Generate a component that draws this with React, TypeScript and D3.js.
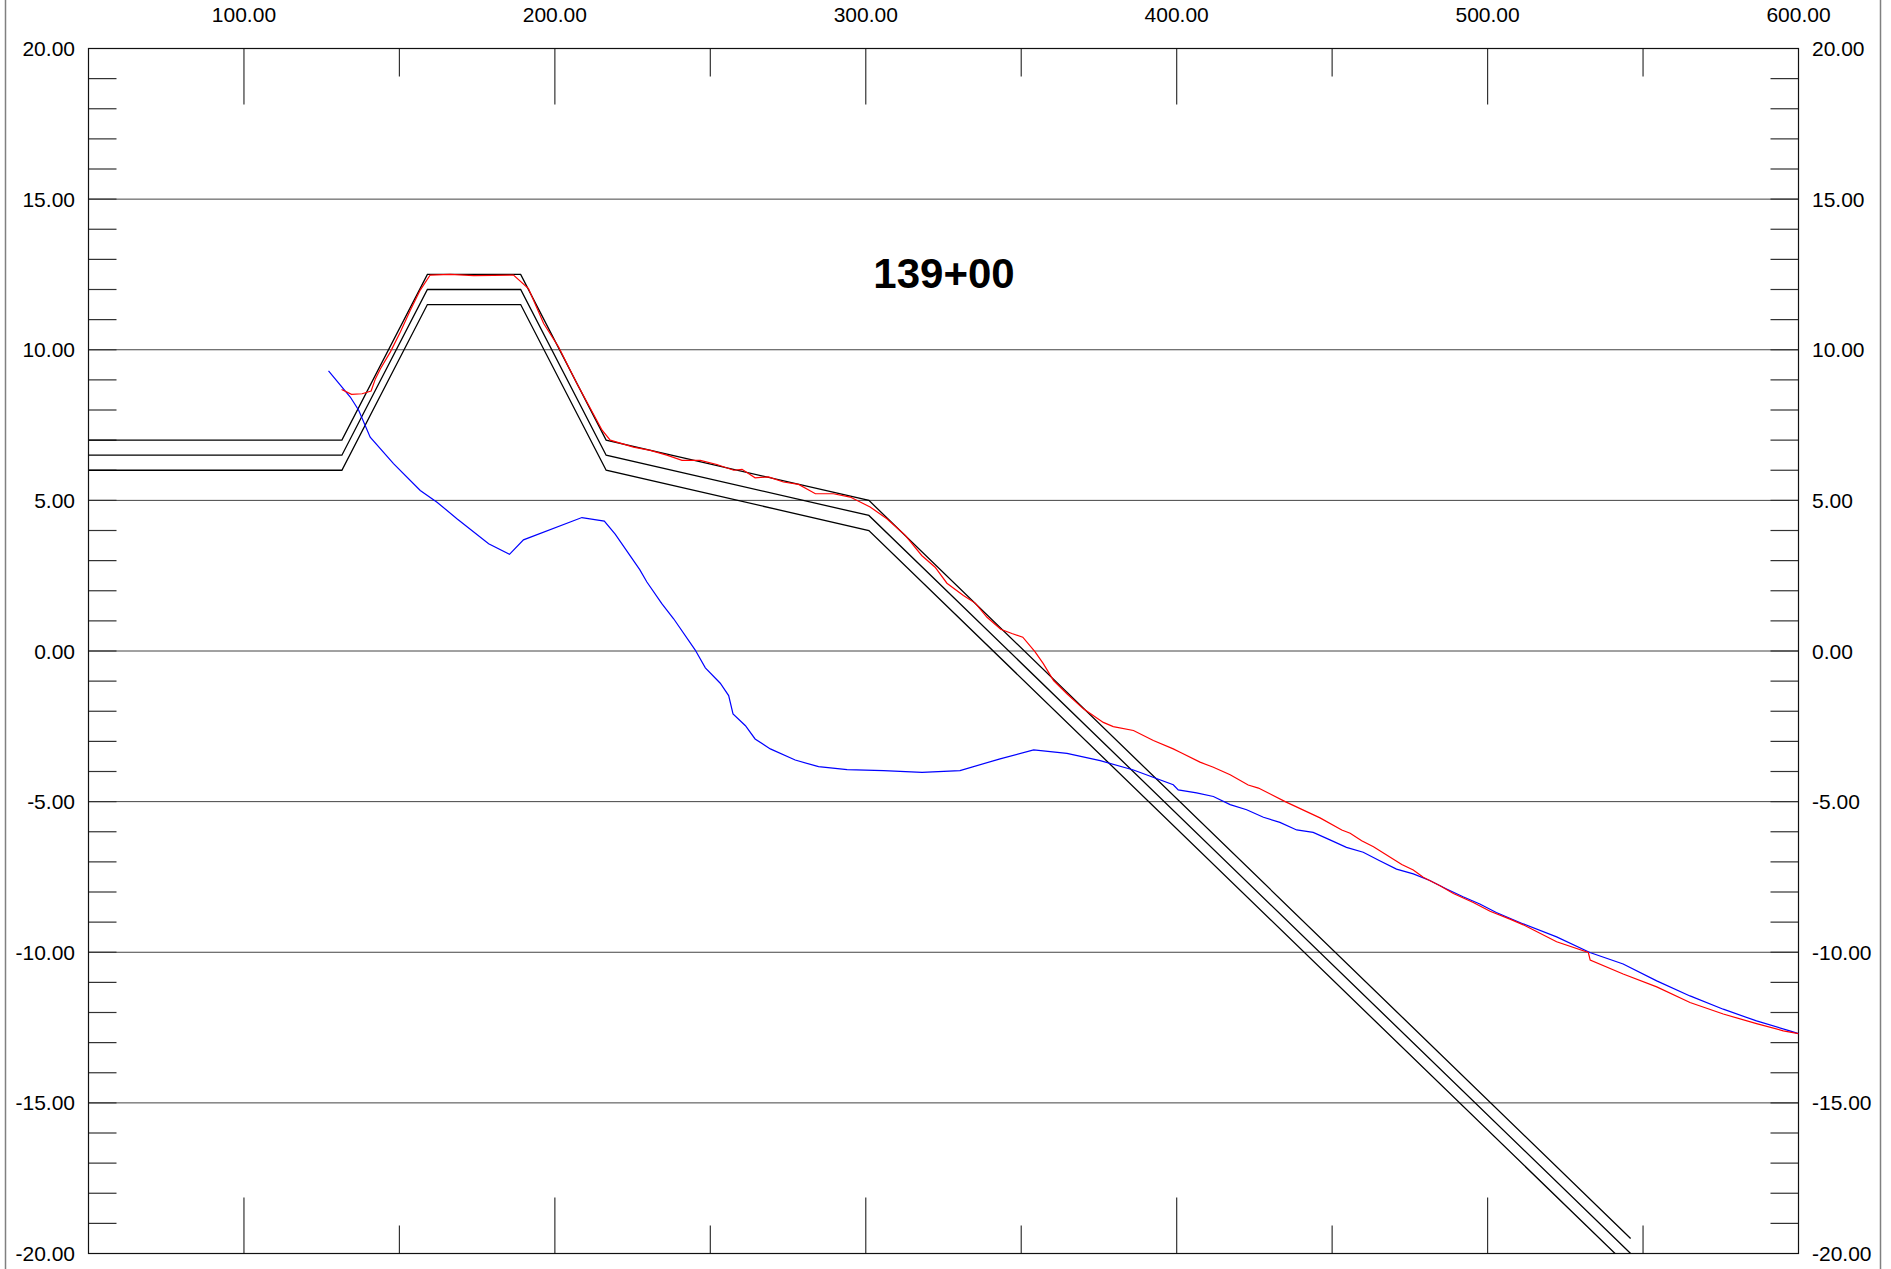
import React from "react";
import * as d3 from "d3";

// ---- data ----
const xTickValues = [100, 200, 300, 400, 500, 600];
const xMinorTickValues = [100, 150, 200, 250, 300, 350, 400, 450, 500, 550];
const yLabelValues = [20, 15, 10, 5, 0, -5, -10, -15, -20];
const yGridValues = [15, 10, 5, 0, -5, -10, -15];
const yMinorTickValues = d3.range(-19, 20);
const title = "139+00";

// design template: shared offsets, three elevations
const designX = [50, 131.5, 159, 189, 216.5, 301, 546];
const designTop = [7, 7, 12.5, 12.5, 7, 5, -19.5];
const designMid = [6.5, 6.5, 12, 12, 6.5, 4.5, -20.0];
const designBot = [6, 6, 11.5, 11.5, 6, 4, -20.5];

const redX = [131.4, 134.6, 138, 140.9, 142.3, 143.9, 147.1, 150.3, 153.5, 156.7, 159.9, 166.3, 173.9, 180.3, 186.7, 191.5, 196.4, 201.2, 207.1, 215.2, 217.8, 225.3, 230.7, 236, 240.9, 246.8, 252.1, 257.5, 260.2, 264.4, 268.7, 273.5, 278.4, 283.8, 289.6, 295, 301.4, 306.8, 312.7, 318.0, 322.3, 326.1, 331.4, 335.2, 339, 343.4, 347, 350.5, 354.4, 357.1, 360.4, 364.7, 370, 376.4, 379.6, 386.1, 392.5, 398.9, 401.1, 407.5, 411.8, 417.2, 423, 426.3, 434.9, 446.1, 453.1, 455.8, 459.5, 463.3, 472.4, 476.1, 479.3, 484.7, 489, 495.4, 500.8, 507.2, 511.5, 522.2, 532.4, 533, 543.6, 554.4, 565.1, 575.8, 586.5, 595.1, 600];
const redY = [8.68, 8.52, 8.54, 8.63, 9.04, 9.37, 9.93, 10.59, 11.31, 11.98, 12.48, 12.5, 12.46, 12.47, 12.48, 12.03, 10.87, 10.09, 8.88, 7.33, 7.0, 6.77, 6.66, 6.5, 6.33, 6.33, 6.19, 6.0, 6.03, 5.75, 5.78, 5.61, 5.53, 5.22, 5.22, 5.11, 4.78, 4.39, 3.84, 3.17, 2.78, 2.25, 1.84, 1.59, 1.12, 0.72, 0.58, 0.46, -0.02, -0.42, -0.98, -1.42, -1.92, -2.37, -2.51, -2.64, -2.97, -3.25, -3.36, -3.69, -3.86, -4.11, -4.45, -4.55, -5.0, -5.54, -5.94, -6.05, -6.3, -6.5, -7.09, -7.27, -7.51, -7.79, -8.05, -8.35, -8.64, -8.9, -9.09, -9.65, -10.01, -10.26, -10.72, -11.15, -11.67, -12.05, -12.37, -12.61, -12.7];

const blueX = [127.2, 134.2, 136.9, 140.6, 148.1, 156.7, 162.1, 168.5, 178.7, 185.4, 189.9, 208.7, 215.9, 219.4, 227.3, 229.6, 234.4, 238.2, 245.1, 248.4, 253.2, 255.9, 257.3, 261.3, 264.4, 269.3, 277.3, 284.8, 294, 305.7, 318.1, 330.3, 343.2, 354, 364.7, 375.4, 386.1, 398.9, 400.5, 406.4, 411.8, 417.2, 422.5, 427.9, 433.2, 438.6, 443.9, 449.3, 454.6, 460, 465.3, 470.7, 476.1, 481.4, 486.8, 492.1, 497.5, 502.8, 511.5, 522.2, 532.9, 543.6, 554.4, 565.1, 575.8, 586.5, 597.2, 600];
const blueY = [9.3, 8.43, 7.99, 7.1, 6.22, 5.33, 4.94, 4.39, 3.56, 3.21, 3.69, 4.43, 4.31, 3.88, 2.7, 2.29, 1.57, 1.07, 0.04, -0.56, -1.07, -1.48, -2.09, -2.48, -2.92, -3.25, -3.62, -3.84, -3.94, -3.97, -4.03, -3.97, -3.58, -3.28, -3.4, -3.64, -3.95, -4.44, -4.61, -4.71, -4.83, -5.1, -5.27, -5.52, -5.69, -5.94, -6.02, -6.27, -6.52, -6.68, -6.96, -7.24, -7.4, -7.62, -7.9, -8.16, -8.4, -8.68, -9.06, -9.49, -10.01, -10.39, -10.95, -11.45, -11.89, -12.28, -12.61, -12.7];

const W = 1891;
const H = 1269;
const left = 88.5;
const right = 1798.5;
const top = 48.5;
const bottom = 1253.5;

export default function App() {
  const x = d3.scaleLinear().domain([50, 600]).range([left, right]);
  const y = d3.scaleLinear().domain([-20, 20]).range([bottom, top]);
  const line = d3
    .line<[number, number]>()
    .x((d) => x(d[0]))
    .y((d) => y(d[1]));
  const zip = (xs: number[], ys: number[]) =>
    xs.map((v, i) => [v, ys[i]] as [number, number]);

  const font = "'Liberation Sans', Arial, sans-serif";
  const tickColor = "#333";

  return (
    <svg
      width={W}
      height={H}
      style={{ position: "absolute", left: 0, top: 0, background: "#fff" }}
    >
      <defs>
        <clipPath id="plotClip">
          <rect x={left} y={top} width={right - left} height={bottom - top} />
        </clipPath>
      </defs>
      <rect x={0} y={0} width={W} height={H} fill="#fff" />
      {/* outer page borders */}
      <line x1={5.5} x2={5.5} y1={0} y2={H} stroke="#808080" strokeWidth={1.5} />
      <line x1={1880.5} x2={1880.5} y1={0} y2={H} stroke="#808080" strokeWidth={1.5} />

      {/* horizontal gridlines */}
      {yGridValues.map((v) => (
        <line key={"g" + v} x1={left} x2={right} y1={y(v)} y2={y(v)} stroke="#444" strokeWidth={1} />
      ))}

      {/* left/right minor ticks */}
      {yMinorTickValues.map((v) => (
        <g key={"yt" + v}>
          <line x1={left} x2={left + 28} y1={y(v)} y2={y(v)} stroke={tickColor} strokeWidth={1.2} />
          <line x1={right - 28} x2={right} y1={y(v)} y2={y(v)} stroke={tickColor} strokeWidth={1.2} />
        </g>
      ))}

      {/* top/bottom ticks */}
      {xMinorTickValues.map((v) => {
        const len = v % 100 === 0 ? 56 : 28;
        return (
          <g key={"xt" + v}>
            <line x1={x(v)} x2={x(v)} y1={top} y2={top + len} stroke={tickColor} strokeWidth={1.2} />
            <line x1={x(v)} x2={x(v)} y1={bottom} y2={bottom - len} stroke={tickColor} strokeWidth={1.2} />
          </g>
        );
      })}

      {/* frame */}
      <rect x={left} y={top} width={right - left} height={bottom - top} fill="none" stroke="#111" strokeWidth={1.2} />

      {/* x labels */}
      {xTickValues.map((v) => (
        <text key={"xl" + v} x={x(v)} y={22} textAnchor="middle" fontFamily={font} fontSize={21} fill="#000">
          {v.toFixed(2)}
        </text>
      ))}

      {/* y labels */}
      {yLabelValues.map((v) => (
        <g key={"yl" + v}>
          <text x={75} y={y(v) + 7.5} textAnchor="end" fontFamily={font} fontSize={21} fill="#000">
            {v.toFixed(2)}
          </text>
          <text x={1812} y={y(v) + 7.5} textAnchor="start" fontFamily={font} fontSize={21} fill="#000">
            {v.toFixed(2)}
          </text>
        </g>
      ))}

      <g clipPath="url(#plotClip)">
        {[designTop, designMid, designBot].map((ys, i) => (
          <path key={"d" + i} d={line(zip(designX, ys)) || ""} fill="none" stroke="#000" strokeWidth={1.3} />
        ))}
        <path d={line(zip(blueX, blueY)) || ""} fill="none" stroke="#0000ff" strokeWidth={1.2} />
        <path d={line(zip(redX, redY)) || ""} fill="none" stroke="#ff0000" strokeWidth={1.2} />
      </g>

      <text x={944} y={288} textAnchor="middle" fontFamily={font} fontWeight="bold" fontSize={42} fill="#000">
        {title}
      </text>
    </svg>
  );
}
